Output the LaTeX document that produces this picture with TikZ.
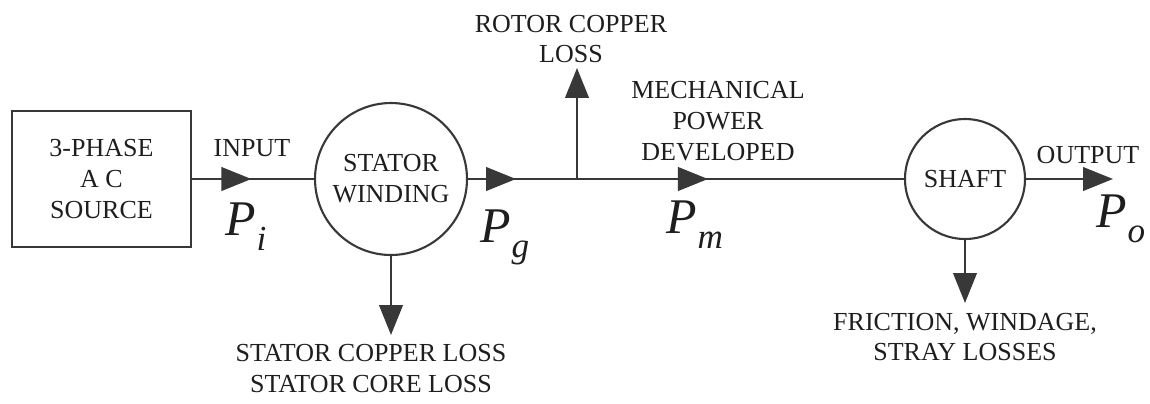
\documentclass[tikz,border=0pt]{standalone}
\usepackage{fontspec}
\setmainfont{Liberation Serif}
\usetikzlibrary{arrows.meta, positioning, decorations.markings}
\definecolor{linegray}{HTML}{383838}
\definecolor{textdark}{HTML}{1E1E1E}
\newcommand{\pflow}[1]{{\fontsize{28.4}{30}\selectfont\itshape P}\kern0.5pt\raisebox{-0.3cm}{\fontsize{20}{22}\selectfont\itshape #1}}

\begin{document}
\begin{tikzpicture}[
    x=0.02cm, y=-0.02cm,
    every node/.style={font=\fontsize{14.8}{17.6}\selectfont, text=textdark},
    source/.style={rectangle, draw=linegray, line width=1.6pt, minimum width=3.58cm, minimum height=2.72cm, align=center},
    unit/.style={circle, draw=linegray, line width=1.2pt, align=center, inner sep=0pt},
    flow/.style={draw=linegray, line width=1.5pt},
    tip/.style={-{Triangle[length=0.6cm, width=0.47cm]}},
    midtip/.style={postaction={decorate}, decoration={markings, mark=at position #1 with {\arrow{Triangle[length=0.6cm, width=0.47cm]}}}},
    note/.style={align=center, inner sep=0pt},
    power/.style={anchor=base west, inner sep=0pt},
]
\useasboundingbox (0,0) rectangle (1150,403);

% Blocks
\node[source] (src) at (101.5,179) {3-PHASE\\A C\\SOURCE};
\node[unit, minimum size=3.04cm] (stator) at (391,179) {STATOR\\WINDING};
\node[unit, minimum size=2.4cm] (shaft) at (965,179) {SHAFT};

% Branch point and free ends
\coordinate (junc) at (577,179);
\coordinate (rotortip) at (577,68);
\coordinate (statortip) at (391,335);
\coordinate (shafttip) at (965,303);
\coordinate (outtip) at (1113,179);

% Texts
\node[note] (input) at (252,148.5) {INPUT};
\node[note] (rotorloss) at (571,39) {ROTOR COPPER\\LOSS};
\node[note] (mech) at (718,121) {MECHANICAL\\POWER\\DEVELOPED};
\node[note] (output) at (1088,155) {OUTPUT};
\node[note] (statorloss) at (371,368.5) {STATOR COPPER LOSS\\STATOR CORE LOSS};
\node[note] (shaftloss) at (965,337) {FRICTION, WINDAGE,\\STRAY LOSSES};

% Power symbols
\node[power] (pin) at (225,235) {\pflow{i}};
\node[power] (pgap) at (480,242) {\pflow{g}};
\node[power] (pmech) at (666,233) {\pflow{m}};
\node[power] (pout) at (1096,227) {\pflow{o}};

% Power flow
\draw[flow, midtip=1.18cm] (src) -- (stator);
\draw[flow, midtip=0.96cm] (stator) -- (junc);
\draw[flow, midtip=2.62cm] (junc) -- (shaft);
\draw[flow, tip] (shaft) -- (outtip);

% Losses
\draw[flow, tip] (junc) -- (rotortip);
\draw[flow, tip] (stator) -- (statortip);
\draw[flow, tip] (shaft) -- (shafttip);

\end{tikzpicture}
\end{document}
